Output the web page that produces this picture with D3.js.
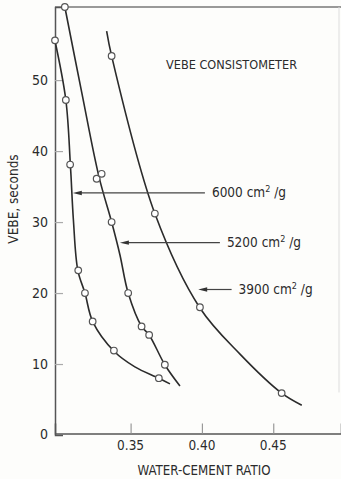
<!DOCTYPE html>
<html>
<head>
<meta charset="utf-8">
<script src="https://cdn.jsdelivr.net/npm/d3@7"></script>
<style>
  html, body { margin: 0; padding: 0; background: #fdfdfb; }
  svg { display: block; font-family: "Liberation Sans Narrow", "Arial Narrow", "DejaVu Sans Condensed", sans-serif; }
</style>
</head>
<body>
<svg id="chart" width="341" height="479"></svg>
<script>
// Vebe time vs water-cement ratio, three cement finenesses.
// Measured points (ratio, seconds) and the hand-drawn fit lines.
const pts6000 = [[0.297,55.6],[0.3046,47.2],[0.3076,38.1],[0.3133,23.2],[0.318,20.0],[0.3234,16.0],[0.3383,11.9],[0.3698,8.0]];
const pts5200 = [[0.3039,60.3],[0.3262,36.1],[0.3297,36.8],[0.3367,30.0],[0.3483,20.0],[0.3577,15.3],[0.363,14.1],[0.374,9.9]];
const pts3900 = [[0.3367,53.4],[0.367,31.2],[0.3986,18.0],[0.4559,5.9]];

const fit6000 = [[0.2966,55.9],[0.3046,47.2],[0.3078,38.0],[0.3099,30.3],[0.313,23.2],[0.318,20.0],[0.3236,15.9],[0.3384,11.8],[0.353,9.6],[0.3698,8.0],[0.3776,7.2]];
const fit5200 = [[0.3039,60.3],[0.3158,48.2],[0.3278,36.4],[0.3367,30.0],[0.3425,25.4],[0.3483,20.0],[0.3577,15.3],[0.363,14.1],[0.374,9.9],[0.3846,6.9]];
const fit3900 = [[0.3332,56.9],[0.3367,53.4],[0.367,31.2],[0.3986,17.9],[0.4267,11.4],[0.4559,5.9],[0.47,4.2]];

const surfaces = ['6000', '5200', '3900'];
const arrowVebe = [34.1, 27.1, 20.5];
const arrowTip = [0.3095, 0.3425, 0.3974];
const arrowTail = [0.4021, 0.4126, 0.4208];

const yTicks = [10, 20, 30, 40, 50];
const xTicks = [0.35, 0.40, 0.45];
const xTickLabels = ['0.35', '0.40', '0.45'];

const svg = d3.select('#chart');
const width = 341, height = 479;

const x = d3.scaleLinear().domain([0.297, 0.4975]).range([55, 341]);
const y = d3.scaleLinear().domain([0, 60.3]).range([435, 7]);

const ink = '#2b2b2b', grey = '#6a6a6a';

// frame: top rule, left + bottom axes, faint right edge
const g = svg.append('g');
g.append('line').attr('x1', x(0.297)).attr('x2', width).attr('y1', y(60.3)).attr('y2', y(60.3))
    .attr('stroke', '#777').attr('stroke-width', 1.4);
g.append('line').attr('x1', x(0.4975) - 2).attr('x2', x(0.4975) - 2).attr('y1', y(60.3)).attr('y2', y(6))
    .attr('stroke', '#ddd').attr('stroke-width', 1);

const yAxis = d3.axisRight(y).tickValues(yTicks).tickSize(8).tickFormat('');
g.append('g').attr('transform', `translate(${x(0.297)},0)`).call(yAxis)
    .call(s => s.select('.domain').attr('stroke', '#555').attr('stroke-width', 1.5))
    .call(s => s.selectAll('.tick line').attr('stroke', '#aaa').attr('stroke-width', 1.2));

const xAxis = d3.axisTop(x).tickValues(xTicks).tickSize(10).tickFormat('');
g.append('g').attr('transform', `translate(0,${y(0) - 1.5})`).call(xAxis)
    .call(s => s.select('.domain').attr('stroke', '#555').attr('stroke-width', 1.5))
    .call(s => s.selectAll('.tick line').attr('stroke', '#999').attr('stroke-width', 1.2));

// tick labels
g.append('g').selectAll('text').data([0, ...yTicks]).join('text')
    .attr('x', 48).attr('y', d => y(d) + (d === 0 ? -1 : 0)).attr('dy', '0.35em')
    .attr('text-anchor', 'end').attr('font-size', 14).attr('fill', ink)
    .text(d => d);
g.append('g').selectAll('text').data(xTicks).join('text')
    .attr('x', d => x(d)).attr('y', 450)
    .attr('text-anchor', 'middle').attr('font-size', 13.5).attr('fill', ink)
    .text((d, i) => xTickLabels[i]);

g.append('text').attr('x', 204).attr('y', 475).attr('text-anchor', 'middle')
    .attr('font-size', 13.5).attr('fill', ink)
    .attr('textLength', 133).attr('lengthAdjust', 'spacingAndGlyphs')
    .text('WATER-CEMENT RATIO');
g.append('text').attr('transform', 'translate(18,199) rotate(-90)').attr('text-anchor', 'middle')
    .attr('font-size', 13.5).attr('fill', ink)
    .text('VEBE, seconds');
g.append('text').attr('x', 166).attr('y', 69)
    .attr('font-size', 13).attr('fill', ink)
    .attr('textLength', 131).attr('lengthAdjust', 'spacingAndGlyphs')
    .text('VEBE CONSISTOMETER');

// curves
const line = d3.line().x(d => x(d[0])).y(d => y(d[1])).curve(d3.curveCatmullRom.alpha(0.5));
g.append('g').attr('fill', 'none').attr('stroke', ink).attr('stroke-width', 1.6)
    .selectAll('path').data([fit6000, fit5200, fit3900]).join('path')
    .attr('d', line);

g.append('g').attr('fill', '#fff').attr('stroke', '#555').attr('stroke-width', 1.2)
    .selectAll('circle').data([...pts6000, ...pts5200, ...pts3900]).join('circle')
    .attr('cx', d => x(d[0])).attr('cy', d => y(d[1])).attr('r', 3.3);

// arrows + fineness labels
const ann = g.append('g').selectAll('g').data(surfaces).join('g');
ann.append('line')
    .attr('x1', (d, i) => x(arrowTip[i]) + 6).attr('x2', (d, i) => x(arrowTail[i]))
    .attr('y1', (d, i) => y(arrowVebe[i])).attr('y2', (d, i) => y(arrowVebe[i]))
    .attr('stroke', '#444').attr('stroke-width', 1.2);
ann.append('path')
    .attr('d', (d, i) => {
        const tx = x(arrowTip[i]), ty = y(arrowVebe[i]);
        return `M${tx},${ty}L${tx + 9},${ty - 2.2}L${tx + 9},${ty + 2.2}Z`;
    })
    .attr('fill', '#333');
const lab = ann.append('text')
    .attr('x', (d, i) => x(arrowTail[i]) + 7).attr('y', (d, i) => y(arrowVebe[i]) + 4.5)
    .attr('font-size', 13.5).attr('fill', ink);
lab.append('tspan').text(d => d + ' cm');
lab.append('tspan').attr('dy', -5).attr('font-size', 9).text('2');
lab.append('tspan').attr('dy', 5).text(' /g');
</script>
</body>
</html>
